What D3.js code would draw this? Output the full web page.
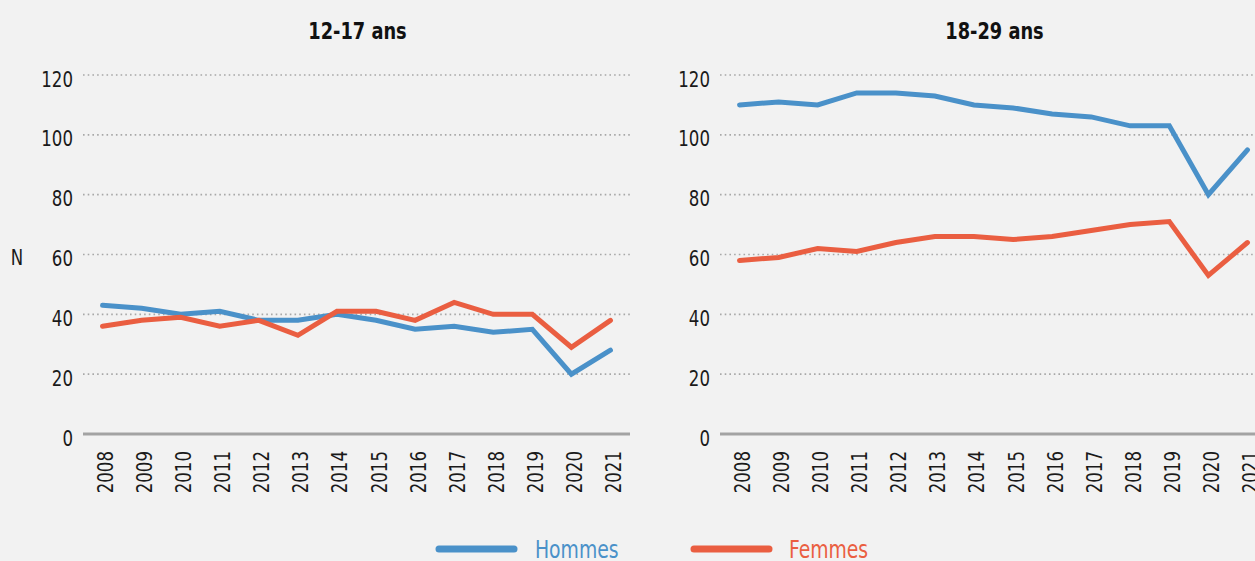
<!DOCTYPE html>
<html>
<head>
<meta charset="utf-8">
<script src="https://cdn.jsdelivr.net/npm/d3@7"></script>
<style>
  html, body { margin: 0; padding: 0; background: #f2f2f2; overflow: hidden; }
  svg { display: block; }
  text { font-family: "DejaVu Sans Condensed", "DejaVu Sans", sans-serif; }
</style>
</head>
<body>
<svg id="chart" width="1255" height="561"></svg>
<script>
// Années et effectifs par sexe, pour chaque tranche d'âge
const years = ["2008","2009","2010","2011","2012","2013","2014","2015","2016","2017","2018","2019","2020","2021"];
const yTicks = [0, 20, 40, 60, 80, 100, 120];

const hommes1217 = [43, 42, 40, 41, 38, 38, 40, 38, 35, 36, 34, 35, 20, 28];
const femmes1217 = [36, 38, 39, 36, 38, 33, 41, 41, 38, 44, 40, 40, 29, 38];
const hommes1829 = [110, 111, 110, 114, 114, 113, 110, 109, 107, 106, 103, 103, 80, 95];
const femmes1829 = [58, 59, 62, 61, 64, 66, 66, 65, 66, 68, 70, 71, 53, 64];

const panelTitles = ["12-17 ans", "18-29 ans"];
const seriesNames = ["Hommes", "Femmes"];
const colors = { Hommes: "#4a91c9", Femmes: "#ea5e41" };

// Resserrement horizontal des textes (police étroite)
const NARROW = 0.84;

const panels = [
  { title: panelTitles[0], x0: 83,  x1: 630, series: [["Hommes", hommes1217], ["Femmes", femmes1217]], showN: true },
  { title: panelTitles[1], x0: 720, x1: 1267, series: [["Hommes", hommes1829], ["Femmes", femmes1829]], showN: false }
];

const svg = d3.select("#chart");
const y = d3.scaleLinear().domain([0, 120]).range([434, 75]);

panels.forEach(p => {
  const g = svg.append("g");
  const x = d3.scalePoint().domain(years).range([p.x0, p.x1]).padding(0.5);

  // Titre du panneau
  g.append("text")
    .attr("transform", `translate(${(p.x0 + p.x1) / 2 + 1},39) scale(0.86,1)`)
    .attr("text-anchor", "middle")
    .attr("font-size", 23)
    .attr("font-weight", "bold")
    .attr("fill", "#111")
    .text(p.title);

  // Lignes de grille pointillées
  g.selectAll("line.grid")
    .data(yTicks.filter(t => t > 0))
    .join("line")
    .attr("class", "grid")
    .attr("x1", p.x0).attr("x2", p.x1)
    .attr("y1", d => y(d)).attr("y2", d => y(d))
    .attr("stroke", "#a8a8a8")
    .attr("stroke-width", 1.6)
    .attr("stroke-dasharray", "1.6 3.1");

  // Axe vertical (libellés seulement)
  const yAxis = d3.axisLeft(y).tickValues(yTicks).tickSize(0).tickPadding(0);
  const ya = g.append("g").attr("transform", `translate(${p.x0 - 10},0)`).call(yAxis);
  ya.select(".domain").remove();
  ya.selectAll("text")
    .attr("font-size", 22)
    .attr("fill", "#1a1a1a")
    .attr("x", 0)
    .attr("dy", "0.5em")
    .attr("transform", `scale(${NARROW},1)`);

  // Ligne de base (0)
  g.append("line")
    .attr("x1", p.x0).attr("x2", p.x1)
    .attr("y1", y(0)).attr("y2", y(0))
    .attr("stroke", "#a3a3a3")
    .attr("stroke-width", 3);

  // Axe horizontal : années verticales
  const xAxis = d3.axisBottom(x).tickSize(0).tickPadding(0);
  const xa = g.append("g").attr("transform", `translate(0,${y(0)})`).call(xAxis);
  xa.select(".domain").remove();
  xa.selectAll("text")
    .attr("font-size", 22)
    .attr("fill", "#1a1a1a")
    .attr("text-anchor", "end")
    .attr("dy", null)
    .attr("x", 0).attr("y", 0)
    .attr("transform", `translate(10,17) rotate(-90) scale(${NARROW},1)`);

  // Courbes
  const line = d3.line().x((d, i) => x(years[i])).y(d => y(d));
  p.series.forEach(([name, vals]) => {
    g.append("path")
      .datum(vals)
      .attr("d", line)
      .attr("fill", "none")
      .attr("stroke", colors[name])
      .attr("stroke-width", 5)
      .attr("stroke-linejoin", "miter")
      .attr("stroke-linecap", "round");
  });

  if (p.showN) {
    g.append("text")
      .attr("transform", `translate(17,${y(60) + 10}) scale(${NARROW},1)`)
      .attr("text-anchor", "middle")
      .attr("font-size", 22)
      .attr("fill", "#1a1a1a")
      .text("N");
  }
});

// Légende
const legend = [
  { name: seriesNames[0], lx: 439, tx: 535 },
  { name: seriesNames[1], lx: 694, tx: 789 }
];
const lg = svg.append("g");
legend.forEach(l => {
  lg.append("line")
    .attr("x1", l.lx).attr("x2", l.lx + 75)
    .attr("y1", 549).attr("y2", 549)
    .attr("stroke", colors[l.name])
    .attr("stroke-width", 7)
    .attr("stroke-linecap", "round");
  lg.append("text")
    .attr("transform", `translate(${l.tx},558) scale(0.87,1)`)
    .attr("font-size", 24)
    .attr("fill", colors[l.name])
    .text(l.name);
});
</script>
</body>
</html>
